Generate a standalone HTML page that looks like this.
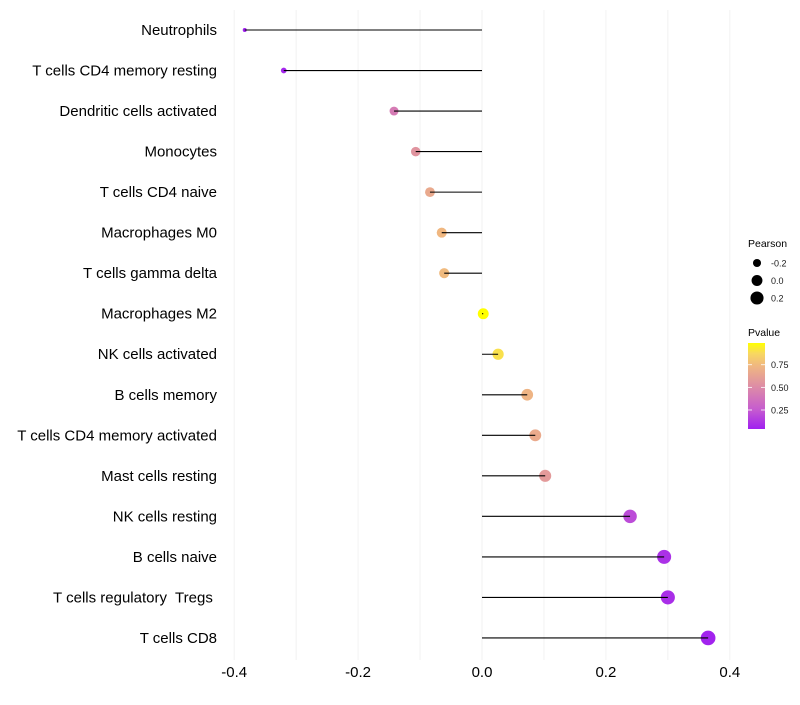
<!DOCTYPE html>
<html><head><meta charset="utf-8"><style>
body{margin:0;background:#fff;}
svg text{font-family:"Liberation Sans",Arial,sans-serif;white-space:pre;}
</style></head><body>
<svg id="chart" width="800" height="700" viewBox="0 0 800 700">
<defs>
<linearGradient id="pgrad" x1="0" y1="1" x2="0" y2="0">
<stop offset="0" stop-color="#a020f0"/>
<stop offset="0.22" stop-color="#c55ad0"/>
<stop offset="0.48" stop-color="#dc8aa8"/>
<stop offset="0.74" stop-color="#f0b880"/>
<stop offset="0.88" stop-color="#f8d860"/>
<stop offset="1" stop-color="#ffff00"/>
</linearGradient>
</defs>
<g id="grid"></g>
<g id="marks"></g>
<g id="ylabels"></g>
<g id="xlabels"></g>
<g>
<text x="748" y="247" font-size="10.5">Pearson</text>
<g id="sizeleg"></g>
</g>
<g>
<text x="748" y="336" font-size="10.5">Pvalue</text>
<rect x="748" y="343" width="17" height="86" fill="url(#pgrad)"/>
<g id="colorleg"></g>
</g>
</svg>
<script>
const categories=["Neutrophils","T cells CD4 memory resting","Dendritic cells activated","Monocytes","T cells CD4 naive","Macrophages M0","T cells gamma delta","Macrophages M2","NK cells activated","B cells memory","T cells CD4 memory activated","Mast cells resting","NK cells resting","B cells naive","T cells regulatory  Tregs ","T cells CD8"];
const pearson=[-0.383,-0.32,-0.142,-0.107,-0.084,-0.065,-0.061,0.002,0.026,0.073,0.086,0.102,0.239,0.294,0.300,0.365];
const pvalue=[0.04,0.06,0.42,0.55,0.66,0.74,0.75,0.99,0.9,0.72,0.67,0.58,0.2,0.1,0.09,0.05];
const xTicks=[-0.4,-0.2,0,0.2,0.4];
const xTickLabels=["-0.4","-0.2","0.0","0.2","0.4"];
const sizeLegVals=[-0.2,0.0,0.2];
const sizeLegLabels=["-0.2","0.0","0.2"];
const colorLegVals=[0.25,0.5,0.75];
const colorLegLabels=["0.25","0.50","0.75"];

const NS="http://www.w3.org/2000/svg";
const X=v=>482+v*619.5;
const Y=i=>30+i*40.53;
const pmin=0.04,pmax=0.99;
const PY=p=>429-(p-pmin)/(pmax-pmin)*86;
const R=v=>Math.sqrt(Math.max(1,4+(v+0.383)/0.748*50));
const stops=[[0,[160,32,240]],[0.22,[197,90,208]],[0.48,[220,138,168]],[0.74,[240,184,128]],[0.88,[248,216,96]],[1,[255,255,0]]];
function col(p){let t=(p-pmin)/(pmax-pmin);t=Math.max(0,Math.min(1,t));
for(let k=1;k<stops.length;k++){if(t<=stops[k][0]){const a=stops[k-1],b=stops[k];const f=(t-a[0])/(b[0]-a[0]);
return "rgb("+a[1].map((c,j)=>Math.round(c+(b[1][j]-c)*f)).join(",")+")";}}return "rgb(255,255,0)";}
function mk(tag,attrs,parent){const e=document.createElementNS(NS,tag);for(const k in attrs)e.setAttribute(k,attrs[k]);parent.appendChild(e);return e;}

const grid=document.getElementById('grid');
for(let v=-0.4;v<=0.45;v+=0.1){
const l=mk('line',{x1:X(v),x2:X(v),y1:10,y2:660,stroke:"#f2f2f2","stroke-width":1},grid);


}
const marks=document.getElementById('marks');
const yl=document.getElementById('ylabels');
categories.forEach((c,i)=>{
const y=Y(i);
const dot=mk('circle',{cx:X(pearson[i]),cy:y,r:R(pearson[i]),fill:col(pvalue[i])},marks);


const seg=mk('line',{x1:X(0),x2:X(pearson[i]),y1:y,y2:y,stroke:"#000","stroke-width":1.1},marks);


const t=mk('text',{x:217,y:y+5,"text-anchor":"end","font-size":15,fill:"#000"},yl);
t.textContent=c;


});
const xl=document.getElementById('xlabels');
xTicks.forEach((v,i)=>{
const t=mk('text',{x:X(v),y:677,"text-anchor":"middle","font-size":15,fill:"#000"},xl);
t.textContent=xTickLabels[i];


});
const sl=document.getElementById('sizeleg');
sizeLegVals.forEach((v,i)=>{
const y=263+i*17.5;
const c=mk('circle',{cx:757,cy:y,r:R(v),fill:"#000"},sl);


const t=mk('text',{x:771,y:y+3.5,"font-size":9,fill:"#1a1a1a"},sl);
t.textContent=sizeLegLabels[i];


});
const cl=document.getElementById('colorleg');
colorLegVals.forEach((v,i)=>{
const y=PY(v);
mk('line',{x1:748,x2:752,y1:y,y2:y,stroke:"#fff","stroke-width":0.8},cl);
mk('line',{x1:761,x2:765,y1:y,y2:y,stroke:"#fff","stroke-width":0.8},cl);
const t=mk('text',{x:771,y:y+3.5,"font-size":9,fill:"#1a1a1a"},cl);
t.textContent=colorLegLabels[i];


});
</script>
</body></html>
